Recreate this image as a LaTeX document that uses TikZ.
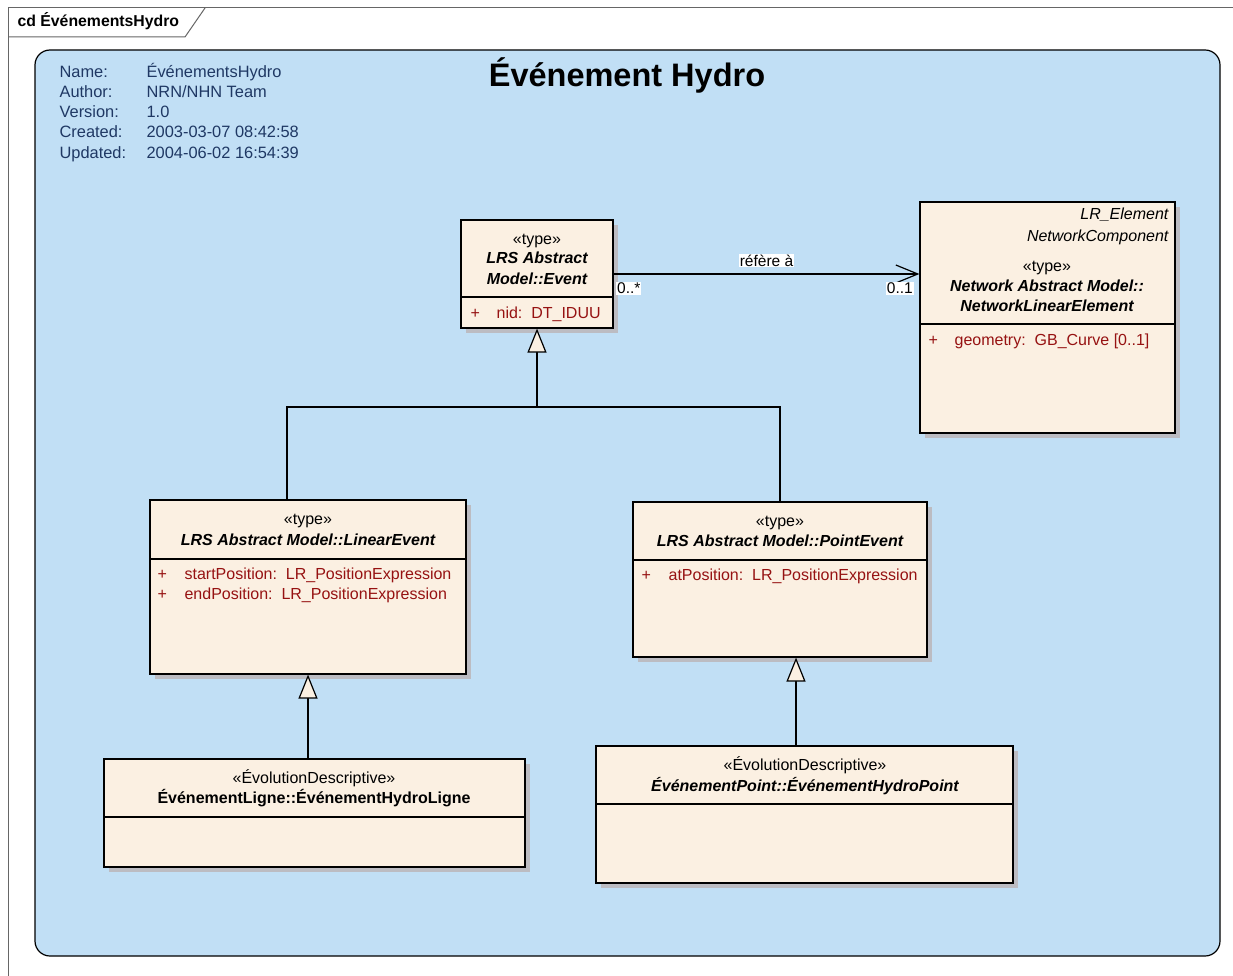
\documentclass[tikz,border=0pt]{standalone}
\usepackage{fontspec}
\setmainfont{Liberation Sans}
\usetikzlibrary{positioning,arrows.meta,shadows}

\definecolor{pkgblue}{RGB}{193,223,245}
\definecolor{classfill}{RGB}{251,240,226}
\definecolor{shadowgray}{RGB}{188,188,194}
\definecolor{attrred}{RGB}{150,18,18}
\definecolor{noteblue}{RGB}{31,56,100}

\begin{document}
\begin{tikzpicture}[x=1pt, y=-1pt, line width=1.2pt,
    cls/.style = {draw, fill=classfill, rectangle, inner sep=0pt,
      drop shadow={shadow xshift=5pt, shadow yshift=-5pt, fill=shadowgray, opacity=1}},
    txt/.style = {inner sep=0pt, anchor=base, font=\fontsize{16}{18}\selectfont},
    cname/.style = {txt, font=\fontsize{16}{18}\selectfont\bfseries\itshape},
    attr/.style = {txt, anchor=base west, text=attrred},
    meta/.style = {inner sep=0pt, anchor=base west, text=noteblue, font=\fontsize{16.4}{18}\selectfont},
    mult/.style = {fill=white, inner sep=1pt, font=\fontsize{15.5}{18}\selectfont},
    gen/.style = {-{Triangle[length=24pt, width=19pt, fill=classfill]}},
    assoc/.style = {-{Straight Barb[length=22pt, width=18pt]}}]
  \useasboundingbox (0,0) rectangle (1233,976);
  \fill[white] (0,0) rectangle (1233,976);
  % frame
  \draw[black!60, line width=1pt] (8,990) -- (8,8) -- (1250,8);
  \draw[black!60, line width=1pt] (8,37) -- (185,37) -- (205,8);
  \node[inner sep=0pt, anchor=base west, font=\fontsize{15.8}{18}\selectfont\bfseries] (tab) at (17,27) {cd ÉvénementsHydro};
  % package
  \draw[fill=pkgblue, rounded corners=15pt] (35,50) rectangle (1220,956);
  \node[inner sep=0pt, anchor=base, font=\fontsize{32.5}{36}\selectfont\bfseries] (title) at (627,87) {Événement Hydro};
  \node[meta] (m1) at (59,78) {Name:};
  \node[meta] (m2) at (59,98) {Author:};
  \node[meta] (m3) at (59,118) {Version:};
  \node[meta] (m4) at (59,138) {Created:};
  \node[meta] (m5) at (59,159) {Updated:};
  \node[meta] (v1) at (146,78) {ÉvénementsHydro};
  \node[meta] (v2) at (146,98) {NRN/NHN Team};
  \node[meta] (v3) at (146,118) {1.0};
  \node[meta] (v4) at (146,138) {2003-03-07 08:42:58};
  \node[meta] (v5) at (146,159) {2004-06-02 16:54:39};

  % classes
  \node[cls, minimum width=152pt, minimum height=108pt] (ev) at (537,274) {};
  \node[cls, minimum width=255pt, minimum height=231pt] (nle) at (1047.5,317.5) {};
  \node[cls, minimum width=316pt, minimum height=174pt] (lin) at (308,587) {};
  \node[cls, minimum width=294pt, minimum height=155pt] (pnt) at (780,579.5) {};
  \node[cls, minimum width=421pt, minimum height=108pt] (hlig) at (314.5,813) {};
  \node[cls, minimum width=417pt, minimum height=137pt] (hpnt) at (804.5,814.5) {};
  \draw (ev.west |- 0,297) -- (ev.east |- 0,297);
  \draw (nle.west |- 0,324) -- (nle.east |- 0,324);
  \draw (lin.west |- 0,559) -- (lin.east |- 0,559);
  \draw (pnt.west |- 0,560) -- (pnt.east |- 0,560);
  \draw (hlig.west |- 0,817) -- (hlig.east |- 0,817);
  \draw (hpnt.west |- 0,804) -- (hpnt.east |- 0,804);

  \node[txt] (ev1) at (537,244) {«type»};
  \node[cname] (ev2) at (537,263) {LRS Abstract};
  \node[cname] (ev3) at (537,284) {Model::Event};
  \node[attr] (ev4) at (470,318) {+};
  \node[attr] (ev5) at (496,318) {nid:\ \ DT\_IDUU};

  \node[txt, anchor=base east, font=\fontsize{16}{18}\selectfont\itshape] (nle1) at (1169,220) {LR\_Element};
  \node[txt, anchor=base east, font=\fontsize{16}{18}\selectfont\itshape] (nle2) at (1169,241) {NetworkComponent};
  \node[txt] (nle3) at (1047,271) {«type»};
  \node[cname] (nle4) at (1047,291) {Network Abstract Model::};
  \node[cname] (nle5) at (1047,311) {NetworkLinearElement};
  \node[attr] (nle6) at (928,345) {+};
  \node[attr] (nle7) at (954,345) {geometry:\ \ GB\_Curve [0..1]};

  \node[txt] (lin1) at (308,524) {«type»};
  \node[cname] (lin2) at (308,545) {LRS Abstract Model::LinearEvent};
  \node[attr] (lin3) at (157,579) {+};
  \node[attr] (lin4) at (184,579) {startPosition:\ \ LR\_PositionExpression};
  \node[attr] (lin5) at (157,599) {+};
  \node[attr] (lin6) at (184,599) {endPosition:\ \ LR\_PositionExpression};

  \node[txt] (pnt1) at (780,526) {«type»};
  \node[cname] (pnt2) at (780,546) {LRS Abstract Model::PointEvent};
  \node[attr] (pnt3) at (641,580) {+};
  \node[attr] (pnt4) at (668,580) {atPosition:\ \ LR\_PositionExpression};

  \node[txt] (hlig1) at (314,783) {«ÉvolutionDescriptive»};
  \node[txt, font=\fontsize{16}{18}\selectfont\bfseries] (hlig2) at (314,803) {ÉvénementLigne::ÉvénementHydroLigne};
  \node[txt] (hpnt1) at (805,770) {«ÉvolutionDescriptive»};
  \node[cname] (hpnt2) at (805,791) {ÉvénementPoint::ÉvénementHydroPoint};

  % connectors
  \coordinate (j) at (537,407);
  \coordinate (jl) at (287,407);
  \coordinate (jr) at (780,407);
  \draw[gen] (j) -- (ev.south);
  \draw (jl |- lin.north) -- (jl) -- (jr) -- (pnt.north);
  \draw[gen] (hlig.north -| lin.south) -- (lin.south);
  \draw[gen] ([xshift=16pt]pnt.south |- hpnt.north) -- ([xshift=16pt]pnt.south);
  \draw[assoc] (ev.east) -- (ev.east -| nle.west)
    node[pos=0.5, above=6pt, fill=white, inner sep=1pt, font=\fontsize{15.5}{18}\selectfont] (lbl) {réfère à};
  \node[mult, anchor=north west] (m0s) at ([xshift=2pt, yshift=-7pt]ev.east) {0..*};
  \node[mult, anchor=north east] (m01) at ([xshift=-5pt, yshift=-7pt]ev.east -| nle.west) {0..1};
\end{tikzpicture}
\end{document}
